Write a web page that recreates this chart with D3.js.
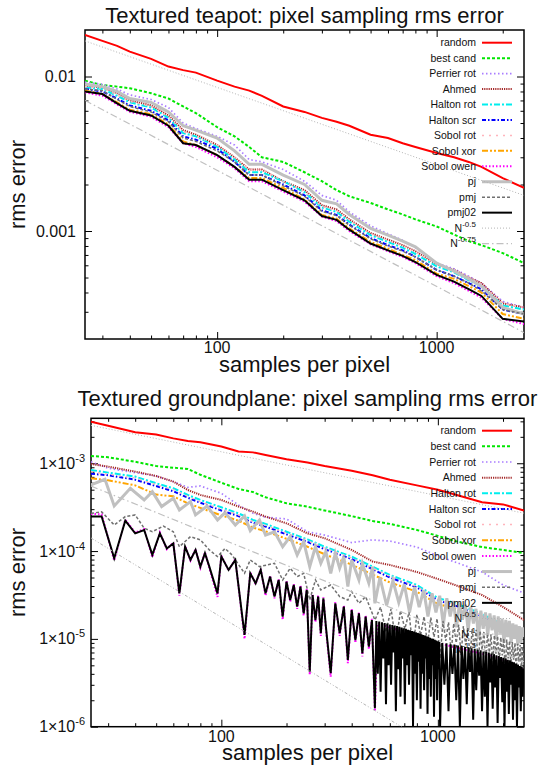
<!DOCTYPE html>
<html>
<head>
<meta charset="utf-8">
<script src="https://cdn.jsdelivr.net/npm/d3@7"></script>
<style>
body { margin: 0; background: #fff; }
svg text { font-family: "Liberation Sans", Arial, Helvetica, sans-serif; fill: #111; }
</style>
</head>
<body>
<svg id="chart" width="543" height="769"></svg>
<script>
// ---------- data ----------
var xTicks = [100, 1000];
var xDomain = [25, 2500];
var refN = [25, 2500];

// Textured teapot
var teapotYTicks = [0.001, 0.01];
var teapotN = [25, 30, 35, 40, 50, 60, 70, 80, 100, 120, 140, 160, 200, 250, 300, 350, 400, 500, 600, 700, 800, 1000, 1200, 1400, 1600, 2000, 2500];
var teapotRandom = [0.0186, 0.0170, 0.0158, 0.0145, 0.0130, 0.0116, 0.0110, 0.0106, 0.0094, 0.0086, 0.0081, 0.0075, 0.0064, 0.0059, 0.0054, 0.0051, 0.0048, 0.0042, 0.0040, 0.0037, 0.0035, 0.0032, 0.0030, 0.0028, 0.0026, 0.0022, 0.0019];
var teapotBestCand = [0.0094, 0.0088, 0.0086, 0.0084, 0.0078, 0.0072, 0.0064, 0.0058, 0.0047, 0.0041, 0.0035, 0.0030, 0.0028, 0.0024, 0.0021, 0.00184, 0.00168, 0.00152, 0.00138, 0.00128, 0.00119, 0.00107, 0.00095, 0.00086, 0.00081, 0.00072, 0.00062];
var teapotPerrier = [0.0092, 0.0089, 0.0083, 0.0076, 0.0071, 0.0063, 0.0050, 0.0046, 0.0041, 0.0036, 0.0029, 0.0028, 0.0025, 0.0021, 0.00170, 0.00158, 0.00133, 0.00108, 0.00096, 0.00087, 0.00078, 0.00062, 0.00057, 0.00051, 0.00046, 0.00035, 0.00032];
var teapotAhmed = [0.0087, 0.0085, 0.0078, 0.0070, 0.0065, 0.0056, 0.0045, 0.0042, 0.0036, 0.0030, 0.0025, 0.0025, 0.0021, 0.00184, 0.00147, 0.00138, 0.00119, 0.00097, 0.00088, 0.00081, 0.00074, 0.00061, 0.00056, 0.00050, 0.00046, 0.00034, 0.00032];
var teapotHaltonRot = [0.0085, 0.0083, 0.0075, 0.0068, 0.0063, 0.0054, 0.0043, 0.0041, 0.0035, 0.0029, 0.0024, 0.0024, 0.0021, 0.00178, 0.00142, 0.00133, 0.00115, 0.00094, 0.00085, 0.00078, 0.00071, 0.00059, 0.00054, 0.00048, 0.00044, 0.00033, 0.00031];
var teapotHaltonScr = [0.0083, 0.0080, 0.0072, 0.0065, 0.0060, 0.0052, 0.0041, 0.0039, 0.0034, 0.0028, 0.0023, 0.0023, 0.0020, 0.00170, 0.00136, 0.00127, 0.00110, 0.00090, 0.00081, 0.00075, 0.00068, 0.00056, 0.00051, 0.00046, 0.00042, 0.00031, 0.00029];
var teapotSobolRot = [0.0086, 0.0084, 0.0076, 0.0069, 0.0064, 0.0055, 0.0044, 0.0041, 0.0036, 0.0030, 0.0025, 0.0025, 0.0021, 0.00180, 0.00144, 0.00136, 0.00118, 0.00096, 0.00087, 0.00080, 0.00073, 0.00061, 0.00056, 0.00050, 0.00045, 0.00034, 0.00032];
var teapotSobolXor = [0.0081, 0.0077, 0.0068, 0.0061, 0.0057, 0.0049, 0.0038, 0.0036, 0.0031, 0.0026, 0.0022, 0.0022, 0.0019, 0.0016, 0.00127, 0.00120, 0.00104, 0.00085, 0.00077, 0.00070, 0.00065, 0.00053, 0.00049, 0.00044, 0.00040, 0.00029, 0.00027];
var teapotSobolOwen = [0.0079, 0.0075, 0.0066, 0.0059, 0.0055, 0.0047, 0.0037, 0.0035, 0.0030, 0.00255, 0.0021, 0.0021, 0.0018, 0.00155, 0.00124, 0.00116, 0.00100, 0.00082, 0.00074, 0.00068, 0.00062, 0.00051, 0.00046, 0.00041, 0.00037, 0.00027, 0.00025];
var teapotPj = [0.0089, 0.0086, 0.0080, 0.0072, 0.0068, 0.0059, 0.0048, 0.0045, 0.0040, 0.0033, 0.0027, 0.0027, 0.0023, 0.0020, 0.00158, 0.00150, 0.00128, 0.00104, 0.00094, 0.00086, 0.00079, 0.00062, 0.00055, 0.00049, 0.00044, 0.00032, 0.00029];
var teapotPmj = [0.0083, 0.0081, 0.0071, 0.0064, 0.0059, 0.0051, 0.0040, 0.0038, 0.0033, 0.0028, 0.0023, 0.0023, 0.00196, 0.00168, 0.00134, 0.00126, 0.00109, 0.00089, 0.00080, 0.00074, 0.00068, 0.00056, 0.00051, 0.00046, 0.00041, 0.00031, 0.00029];
var teapotPmj02 = [0.0080, 0.0077, 0.0067, 0.0060, 0.0056, 0.0048, 0.0037, 0.0036, 0.0031, 0.0026, 0.00215, 0.00215, 0.00184, 0.00158, 0.00125, 0.00118, 0.00102, 0.00083, 0.00075, 0.00069, 0.00063, 0.00052, 0.00047, 0.00042, 0.00038, 0.00027, 0.00026];
var teapotRef05 = [0.017, 0.0017];
var teapotRef075 = [0.0070, 0.00022];

// Textured groundplane
var groundYTicks = [1e-6, 1e-5, 1e-4, 1e-3];
var groundN = [25, 30, 40, 50, 60, 70, 80, 100, 120, 140, 160, 200, 250, 300, 400, 500, 600, 800, 1000, 1200, 1600, 2000, 2500];
var groundRandom = [0.00298, 0.00268, 0.00225, 0.00212, 0.00192, 0.00179, 0.00173, 0.00155, 0.00136, 0.00133, 0.00124, 0.00111, 0.00102, 0.00093, 0.00082, 0.00073, 0.00065, 0.00056, 0.00050, 0.00044, 0.00036, 0.00034, 0.00029];
var groundBestCand = [0.00121, 0.00117, 0.00104, 0.00093, 0.00089, 0.00086, 0.00074, 0.00060, 0.00051, 0.00047, 0.00041, 0.00035, 0.00032, 0.00029, 0.00025, 0.00022, 0.000204, 0.000174, 0.000149, 0.000130, 0.000111, 0.000103, 0.000095];
var groundPerrier = [0.00104, 0.000877, 0.000782, 0.000716, 0.000618, 0.000532, 0.000551, 0.000455, 0.000335, 0.000269, 0.000243, 0.000232, 0.000166, 0.000152, 0.000125, 0.000134, 0.000130, 0.000111, 0.0000879, 0.0000751, 0.0000578, 0.0000411, 0.0000333];
var groundAhmed = [0.00098, 0.000916, 0.000803, 0.000716, 0.000618, 0.000496, 0.000436, 0.000382, 0.000321, 0.000281, 0.000247, 0.000207, 0.000159, 0.000140, 0.000103, 0.0000759, 0.0000695, 0.0000578, 0.0000481, 0.0000411, 0.0000316, 0.0000231, 0.0000164];
var groundHaltonRot = [0.000839, 0.000782, 0.000705, 0.000592, 0.000519, 0.000436, 0.000382, 0.000315, 0.000269, 0.000226, 0.000204, 0.000166, 0.000136, 0.000112, 0.0000865, 0.0000665, 0.0000535, 0.0000411, 0.0000292, 0.0000256, 0.0000192, 0.0000144, 0.0000126];
var groundHaltonScr = [0.000760, 0.000730, 0.000650, 0.000550, 0.000480, 0.000405, 0.000355, 0.000290, 0.000250, 0.000210, 0.000190, 0.000155, 0.000127, 0.000105, 0.0000810, 0.0000620, 0.0000500, 0.0000385, 0.0000275, 0.0000240, 0.0000180, 0.0000136, 0.0000120];
var groundSobolRot = [0.000800, 0.000750, 0.000680, 0.000570, 0.000500, 0.000420, 0.000365, 0.000300, 0.000258, 0.000216, 0.000196, 0.000160, 0.000131, 0.000108, 0.0000835, 0.0000640, 0.0000515, 0.0000395, 0.0000282, 0.0000248, 0.0000186, 0.0000140, 0.0000122];
var groundSobolXor = [0.000674, 0.000640, 0.000560, 0.000440, 0.000420, 0.000350, 0.000310, 0.000255, 0.000222, 0.000185, 0.000168, 0.000138, 0.000112, 0.0000920, 0.0000700, 0.0000540, 0.0000440, 0.0000345, 0.0000250, 0.0000220, 0.0000165, 0.0000125, 0.0000106];

var groundOwenN = [25, 28, 32, 36, 40, 44, 48, 52, 56, 60, 64, 68, 72, 76, 80, 84, 88, 96, 100, 108, 116, 128, 136, 144, 152, 160, 168, 176, 184, 192, 200, 208, 216, 224, 232, 240, 248, 256, 264, 272, 280, 288, 296, 304, 320, 336, 352, 368, 384, 400, 416, 432, 448, 464, 480, 496, 512,
  528, 600, 700, 800, 900, 1000, 1200, 1400, 1600, 1800, 2000, 2200, 2500];
var groundOwen = [0.000265, 0.000262, 0.0000780, 0.000228, 0.000162, 0.000178, 0.0000850, 0.000163, 0.000105, 0.000125, 0.0000310, 0.000115, 0.0000780, 0.000106, 0.0000650, 0.0000970, 0.0000640, 0.0000300, 0.0000890, 0.0000600, 0.0000815, 0.0000100, 0.0000575, 0.0000420, 0.0000625, 0.0000310, 0.0000525, 0.0000290, 0.0000480, 0.0000165, 0.0000460, 0.0000265, 0.0000420, 0.0000220, 0.0000405, 0.0000185, 0.0000370, 0.0000039, 0.0000325, 0.0000155, 0.0000312, 0.0000108, 0.0000298, 0.0000130, 0.0000037, 0.0000262, 0.0000108, 0.0000240, 0.0000053, 0.0000220, 0.0000090, 0.0000201, 0.0000063, 0.0000184, 0.0000076, 0.0000169, 0.0000015,
  0.0000150, 0.0000135, 0.0000120, 0.0000108, 0.0000098, 0.0000090, 0.0000080, 0.0000073, 0.0000068, 0.0000063, 0.0000058, 0.0000053, 0.0000044];

var groundPjN = [25, 29, 32, 38, 44, 48, 53, 60, 64, 72, 76, 86, 96, 104, 116, 128, 136, 150, 160, 176, 192, 208, 224, 240, 256, 272, 288, 304, 320, 336, 352, 368, 384, 400, 432, 448, 480, 500, 512,
  540, 580, 620, 660, 700, 740, 780, 820, 860, 900, 940, 980, 1020, 1060, 1100, 1140, 1180, 1220, 1260, 1300, 1340, 1380, 1420, 1460, 1500, 1540, 1580, 1620, 1660, 1700, 1740, 1780, 1820, 1860, 1900, 1940, 1980, 2020, 2060, 2100, 2140, 2180, 2220, 2260, 2300, 2340, 2380, 2420, 2460, 2500];
var groundPj = [0.000566, 0.000656, 0.000326, 0.000519, 0.000382, 0.000475, 0.000321, 0.000399, 0.000294, 0.000366, 0.000258, 0.000326, 0.000226, 0.000274, 0.000198, 0.000251, 0.000171, 0.000226, 0.000152, 0.000166, 0.000112, 0.000146, 0.0000904, 0.000128, 0.0000665, 0.000112, 0.0000726, 0.0000986, 0.0000558, 0.0000944, 0.0000637, 0.0000865, 0.0000394, 0.0000793, 0.0000469, 0.0000726, 0.0000430, 0.0000665, 0.0000254,
  0.0000500, 0.0000240, 0.0000460, 0.0000260, 0.0000420, 0.0000200, 0.0000390, 0.0000230, 0.0000360, 0.0000180, 0.0000330, 0.0000200, 0.0000310, 0.0000145, 0.0000290, 0.0000180, 0.0000270, 0.0000135, 0.0000260, 0.0000165, 0.0000245, 0.0000125, 0.0000230, 0.0000150, 0.0000220, 0.0000100, 0.0000210, 0.0000130, 0.0000200, 0.0000110, 0.0000195, 0.0000125, 0.0000185, 0.0000100, 0.0000180, 0.0000115, 0.0000170, 0.0000090, 0.0000165, 0.0000105, 0.0000160, 0.0000090, 0.0000150, 0.0000100, 0.0000145, 0.0000085, 0.0000140, 0.0000090, 0.0000135, 0.0000105];

var groundPmjN = [25, 28, 32, 36, 40, 44, 48, 54, 60, 64, 72, 80, 88, 96, 104, 112, 128, 136, 150, 176, 192, 208, 224, 240, 256, 272, 288, 320, 352, 384, 400, 432, 464, 512,
  544, 576, 608, 640, 672, 704, 736, 768, 800, 832, 864, 896, 928, 960, 992, 1024, 1056, 1088, 1120, 1152, 1184, 1216, 1248, 1280, 1312, 1344, 1376, 1408, 1440, 1472, 1504, 1536, 1568, 1600, 1632, 1664, 1696, 1728, 1760, 1792, 1824, 1856, 1888, 1920, 1952, 1984, 2016, 2048, 2080, 2112, 2144, 2176, 2208, 2240, 2272, 2304, 2336, 2368, 2400, 2432, 2464, 2496];
var groundPmj = [0.000269, 0.000280, 0.000198, 0.000247, 0.000258, 0.000182, 0.000166, 0.000193, 0.000166, 0.000112, 0.000146, 0.000134, 0.000103, 0.0000865, 0.000107, 0.0000904, 0.0000558, 0.0000793, 0.0000665, 0.0000726, 0.0000469, 0.0000637, 0.0000512, 0.0000558, 0.0000277, 0.0000469, 0.0000361, 0.0000411, 0.0000303, 0.0000277, 0.0000345, 0.0000254, 0.0000303, 0.0000164,
  0.0000230, 0.0000120, 0.0000220, 0.0000090, 0.0000210, 0.0000130, 0.0000200, 0.0000075, 0.0000190, 0.0000110, 0.0000180, 0.0000085, 0.0000175, 0.0000105, 0.0000170, 0.0000060, 0.0000160, 0.0000095, 0.0000155, 0.0000070, 0.0000150, 0.0000090, 0.0000145, 0.0000065, 0.0000140, 0.0000085, 0.0000135, 0.0000060, 0.0000130, 0.0000080, 0.0000127, 0.0000045, 0.0000123, 0.0000075, 0.0000120, 0.0000055, 0.0000116, 0.0000070, 0.0000113, 0.0000050, 0.0000110, 0.0000068, 0.0000107, 0.0000052, 0.0000104, 0.0000065, 0.0000101, 0.0000040, 0.0000098, 0.0000060, 0.0000095, 0.0000048, 0.0000092, 0.0000058, 0.0000090, 0.0000042, 0.0000088, 0.0000055, 0.0000085, 0.0000045, 0.0000082, 0.0000050];

var groundPmj02N = [25, 28, 32, 36, 40, 44, 48, 52, 56, 60, 64, 68, 72, 76, 80, 84, 88, 96, 100, 108, 116, 128, 136, 144, 152, 160, 168, 176, 184, 192, 200, 208, 216, 224, 232, 240, 248, 256, 264, 272, 280, 288, 296, 304, 320, 336, 352, 368, 384, 400, 416, 432, 448, 464, 480, 496, 512,
  520, 528, 536, 544, 552, 560, 568, 576, 584, 592, 600, 608, 616, 624, 632, 640, 648, 656, 664, 672, 680, 688, 696, 704, 712, 720, 728, 736, 744, 752, 760, 768, 776, 784, 792, 800, 808, 816, 824, 832, 840, 848, 856, 864, 872, 880, 888, 896, 904, 912, 920, 928, 936, 944, 952, 960, 968, 976, 984, 992, 1000, 1008, 1016, 1024,
  1048, 1072, 1096, 1120, 1144, 1168, 1192, 1216, 1240, 1264, 1288, 1312, 1336, 1360, 1384, 1408, 1432, 1456, 1480, 1504, 1528, 1552, 1576, 1600, 1624, 1648, 1672, 1696, 1720, 1744, 1768, 1792, 1816, 1840, 1864, 1888, 1912, 1936, 1960, 1984, 2008, 2032, 2056, 2080, 2104, 2128, 2152, 2176, 2200, 2224, 2248, 2272, 2296, 2320, 2344, 2368, 2392, 2416, 2440, 2464, 2488, 2500];
var groundPmj02 = [0.000247, 0.000247, 0.0000828, 0.000222, 0.000159, 0.000174, 0.0000904, 0.000159, 0.000107, 0.000122, 0.0000330, 0.000112, 0.0000793, 0.000103, 0.0000665, 0.0000944, 0.0000665, 0.0000330, 0.0000865, 0.0000610, 0.0000793, 0.0000111, 0.0000558, 0.0000430, 0.0000610, 0.0000330, 0.0000512, 0.0000303, 0.0000469, 0.0000179, 0.0000449, 0.0000277, 0.0000411, 0.0000233, 0.0000394, 0.0000195, 0.0000361, 0.00000424, 0.0000316, 0.0000164, 0.0000303, 0.0000116, 0.0000290, 0.0000138, 0.00000406, 0.0000254, 0.0000116, 0.0000233, 0.00000575, 0.0000213, 0.00000971, 0.0000195, 0.00000685, 0.0000179, 0.00000817, 0.0000164, 0.00000162,
  0.0000160, 0.0000040, 0.0000158, 0.0000025, 0.0000155, 0.0000060, 0.0000152, 0.0000018, 0.0000150, 0.0000050, 0.0000146, 0.0000030, 0.0000144, 0.0000070, 0.0000142, 0.0000015, 0.0000140, 0.0000045, 0.0000137, 0.0000022, 0.0000135, 0.0000060, 0.0000132, 0.0000018, 0.0000130, 0.0000050, 0.0000127, 0.0000030, 0.0000125, 0.0000065, 0.0000123, 0.0000010, 0.0000121, 0.0000040, 0.0000119, 0.0000020, 0.0000117, 0.0000055, 0.0000115, 0.0000016, 0.0000113, 0.0000040, 0.0000111, 0.0000026, 0.0000109, 0.0000060, 0.0000107, 0.0000014, 0.0000105, 0.0000035, 0.0000103, 0.0000022, 0.0000101, 0.0000050, 0.0000100, 0.0000013, 0.0000098, 0.0000035, 0.0000096, 0.0000020, 0.0000094, 0.0000045, 0.0000092, 0.0000010,
  0.0000090, 0.0000030, 0.0000089, 0.0000015, 0.0000087, 0.0000040, 0.0000086, 0.0000020, 0.0000084, 0.0000010, 0.0000083, 0.0000035, 0.0000081, 0.0000018, 0.0000080, 0.0000042, 0.0000078, 0.0000012, 0.0000077, 0.0000026, 0.0000075, 0.0000038, 0.0000074, 0.0000015, 0.0000072, 0.0000022, 0.0000071, 0.0000010, 0.0000070, 0.0000032, 0.0000068, 0.0000016, 0.0000067, 0.0000028, 0.0000065, 0.0000011, 0.0000064, 0.0000036, 0.0000062, 0.0000019, 0.0000061, 0.0000010, 0.0000060, 0.0000025, 0.0000058, 0.0000014, 0.0000057, 0.0000030, 0.0000055, 0.0000012, 0.0000054, 0.0000020, 0.0000052, 0.0000010, 0.0000051, 0.0000028, 0.0000049, 0.0000015, 0.0000048, 0.0000022, 0.0000046, 0.0000030];

var groundRef05 = [0.0027, 0.00027];
var groundRef1 = [0.00055, 0.0000055];
var groundRef15 = [0.000141, 0.000000141];

// ---------- line styles (colour, width, dash) ----------
var styles = {
    random:    ["#ff0000", 2, null],
    bestCand:  ["#00e600", 2, "3,2"],
    perrier:   ["#a97dff", 1.7, "1.5,2.5"],
    ahmed:     ["#a52a2a", 2, "1.2,1"],
    haltonRot: ["#00eeee", 2, "6,2,2,2"],
    haltonScr: ["#0000ff", 2, "4,2,1.5,2"],
    sobolRot:  ["#ffb4bc", 1.5, "2,5"],
    sobolXor:  ["#ffa500", 2, "6,2,2,2,2,2"],
    sobolOwen: ["#ff00ff", 2, "1.5,2"],
    pj:        ["#c0c0c0", 3, null],
    pmj:       ["#707070", 1.5, "3,2"],
    pmj02:     ["#000000", 2, null],
    ref05:     ["#b4b4b4", 1, "1,2"],
    ref075:    ["#c0c0c0", 1.2, "7,3,1.5,3"],
    ref15:     ["#b4b4b4", 1, "3,2,1,2,1,2"]
};

var svg = d3.select("#chart");

function addParts(text, parts, supSize, supShift) {
    parts.forEach(function (p, i) {
        var ts = text.append("tspan").text(p[0]);
        if (p[1]) {
            ts.attr("font-size", supSize).attr("dy", -supShift);
        } else if (i > 0) {
            ts.attr("dy", supShift);
        }
    });
}

function minorTicks(domain) {
    var out = [];
    var lo = Math.floor(Math.log10(domain[0])), hi = Math.ceil(Math.log10(domain[1]));
    for (var e = lo; e <= hi; e++) {
        for (var m = 2; m <= 9; m++) {
            var v = m * Math.pow(10, e);
            if (v > domain[0] * 1.001 && v < domain[1] * 0.999) out.push(v);
        }
    }
    return out;
}

function drawChart(cfg) {
    var x = d3.scaleLog().domain(xDomain).range([cfg.left, cfg.right]);
    var y = d3.scaleLog().domain(cfg.yDomain).range([cfg.bottom, cfg.top]);
    var g = svg.append("g");

    var clipId = "clip-" + cfg.id;
    g.append("clipPath").attr("id", clipId).append("rect")
        .attr("x", cfg.left).attr("y", cfg.top)
        .attr("width", cfg.right - cfg.left).attr("height", cfg.bottom - cfg.top);

    // inward ticks on all four sides
    function ticks(axis, vals, size, tr) {
        g.append("g").attr("transform", tr)
            .call(axis.tickValues(vals).tickSizeInner(-size).tickSizeOuter(0).tickFormat(""))
            .call(function (a) {
                a.select(".domain").remove();
                a.selectAll("line").attr("stroke", "#000").attr("stroke-width", 1);
            });
    }
    var xMinor = minorTicks(xDomain);
    var yMinor = minorTicks(cfg.yDomain);
    ticks(d3.axisBottom(x), cfg.xMajor, 7, "translate(0," + cfg.bottom + ")");
    ticks(d3.axisBottom(x), xMinor, 3.5, "translate(0," + cfg.bottom + ")");
    ticks(d3.axisTop(x), cfg.xMajor, 7, "translate(0," + cfg.top + ")");
    ticks(d3.axisTop(x), xMinor, 3.5, "translate(0," + cfg.top + ")");
    ticks(d3.axisLeft(y), cfg.yMajor, 7, "translate(" + cfg.left + ",0)");
    ticks(d3.axisLeft(y), yMinor, 3.5, "translate(" + cfg.left + ",0)");
    ticks(d3.axisRight(y), cfg.yMajor, 7, "translate(" + cfg.right + ",0)");
    ticks(d3.axisRight(y), yMinor, 3.5, "translate(" + cfg.right + ",0)");

    // x tick labels
    g.selectAll(".xl").data(cfg.xMajor).enter().append("text")
        .attr("x", function (d) { return x(d); })
        .attr("y", cfg.bottom + cfg.xLabelGap)
        .attr("text-anchor", "middle")
        .style("font-size", "16px")
        .text(function (d) { return d; });

    // y tick labels
    g.selectAll(".yl").data(cfg.yMajor).enter().append("text")
        .attr("x", cfg.left - cfg.yLabelPad)
        .attr("y", function (d) { return y(d); })
        .attr("dy", "0.35em")
        .attr("text-anchor", "end")
        .style("font-size", "16px")
        .each(function (d) {
            addParts(d3.select(this), cfg.yFormat(d), "11px", 7);
        });

    // frame
    g.append("rect")
        .attr("x", cfg.left).attr("y", cfg.top)
        .attr("width", cfg.right - cfg.left).attr("height", cfg.bottom - cfg.top)
        .attr("fill", "none").attr("stroke", "#000").attr("stroke-width", 1.5);

    // titles
    g.append("text")
        .attr("x", (cfg.left + cfg.right) / 2).attr("y", cfg.titleY)
        .attr("text-anchor", "middle").style("font-size", "22px")
        .text(cfg.title);
    g.append("text")
        .attr("x", (cfg.left + cfg.right) / 2).attr("y", cfg.xTitleY)
        .attr("text-anchor", "middle").style("font-size", "22px")
        .text("samples per pixel");
    g.append("text")
        .attr("transform", "translate(25," + ((cfg.top + cfg.bottom) / 2) + ") rotate(-90)")
        .attr("text-anchor", "middle").style("font-size", "22px")
        .text("rms error");

    // series: key entry, then its curve (gnuplot order)
    var line = d3.line()
        .x(function (d) { return x(d[0]); })
        .y(function (d) { return y(d[1]); });
    var plot = g.append("g");
    cfg.series.forEach(function (s, i) {
        var st = styles[s.style];
        var ky = cfg.keyTop + i * cfg.keyStep;
        var kt = plot.append("text")
            .attr("x", cfg.keyText).attr("y", ky).attr("dy", "0.35em")
            .attr("text-anchor", "end").style("font-size", "10.5px");
        addParts(kt, s.label, "8px", 5);
        plot.append("line")
            .attr("x1", cfg.keyText + 6).attr("x2", cfg.keyText + 36)
            .attr("y1", ky).attr("y2", ky)
            .attr("stroke", st[0]).attr("stroke-width", st[1])
            .attr("stroke-dasharray", st[2]);
        plot.append("path")
            .datum(d3.zip(s.n, s.v))
            .attr("clip-path", "url(#" + clipId + ")")
            .attr("d", line)
            .attr("fill", "none")
            .attr("stroke", st[0]).attr("stroke-width", st[1])
            .attr("stroke-dasharray", st[2])
            .attr("stroke-linejoin", "miter");
    });
}

drawChart({
    id: "teapot",
    title: "Textured teapot: pixel sampling rms error",
    left: 85, right: 524, top: 30, bottom: 339,
    yDomain: [0.0002, 0.02],
    xMajor: xTicks, yMajor: teapotYTicks,
    yFormat: function (d) { return [[d3.format("")(d)]]; },
    titleY: 22.7, xTitleY: 372, xLabelGap: 14, yLabelPad: 9,
    keyTop: 42.7, keyStep: 15.45, keyText: 476,
    series: [
        { label: [["random"]], style: "random", n: teapotN, v: teapotRandom },
        { label: [["best cand"]], style: "bestCand", n: teapotN, v: teapotBestCand },
        { label: [["Perrier rot"]], style: "perrier", n: teapotN, v: teapotPerrier },
        { label: [["Ahmed"]], style: "ahmed", n: teapotN, v: teapotAhmed },
        { label: [["Halton rot"]], style: "haltonRot", n: teapotN, v: teapotHaltonRot },
        { label: [["Halton scr"]], style: "haltonScr", n: teapotN, v: teapotHaltonScr },
        { label: [["Sobol rot"]], style: "sobolRot", n: teapotN, v: teapotSobolRot },
        { label: [["Sobol xor"]], style: "sobolXor", n: teapotN, v: teapotSobolXor },
        { label: [["Sobol owen"]], style: "sobolOwen", n: teapotN, v: teapotSobolOwen },
        { label: [["pj"]], style: "pj", n: teapotN, v: teapotPj },
        { label: [["pmj"]], style: "pmj", n: teapotN, v: teapotPmj },
        { label: [["pmj02"]], style: "pmj02", n: teapotN, v: teapotPmj02 },
        { label: [["N"], ["-0.5", 1]], style: "ref05", n: refN, v: teapotRef05 },
        { label: [["N"], ["-0.75", 1]], style: "ref075", n: refN, v: teapotRef075 }
    ]
});

drawChart({
    id: "ground",
    title: "Textured groundplane: pixel sampling rms error",
    left: 91, right: 524, top: 418.3, bottom: 726.7,
    yDomain: [1e-6, 3.25e-3],
    xMajor: xTicks, yMajor: groundYTicks,
    yFormat: function (d) { return [["1\u00d710"], [String(Math.round(Math.log10(d))), 1]]; },
    titleY: 405.5, xTitleY: 760, xLabelGap: 15.5, yLabelPad: 6,
    keyTop: 430.7, keyStep: 15.65, keyText: 476,
    series: [
        { label: [["random"]], style: "random", n: groundN, v: groundRandom },
        { label: [["best cand"]], style: "bestCand", n: groundN, v: groundBestCand },
        { label: [["Perrier rot"]], style: "perrier", n: groundN, v: groundPerrier },
        { label: [["Ahmed"]], style: "ahmed", n: groundN, v: groundAhmed },
        { label: [["Halton rot"]], style: "haltonRot", n: groundN, v: groundHaltonRot },
        { label: [["Halton scr"]], style: "haltonScr", n: groundN, v: groundHaltonScr },
        { label: [["Sobol rot"]], style: "sobolRot", n: groundN, v: groundSobolRot },
        { label: [["Sobol xor"]], style: "sobolXor", n: groundN, v: groundSobolXor },
        { label: [["Sobol owen"]], style: "sobolOwen", n: groundOwenN, v: groundOwen },
        { label: [["pj"]], style: "pj", n: groundPjN, v: groundPj },
        { label: [["pmj"]], style: "pmj", n: groundPmjN, v: groundPmj },
        { label: [["pmj02"]], style: "pmj02", n: groundPmj02N, v: groundPmj02 },
        { label: [["N"], ["-0.5", 1]], style: "ref05", n: refN, v: groundRef05 },
        { label: [["N"], ["-1", 1]], style: "ref075", n: refN, v: groundRef1 },
        { label: [["N"], ["-1.5", 1]], style: "ref15", n: refN, v: groundRef15 }
    ]
});
</script>
</body>
</html>
